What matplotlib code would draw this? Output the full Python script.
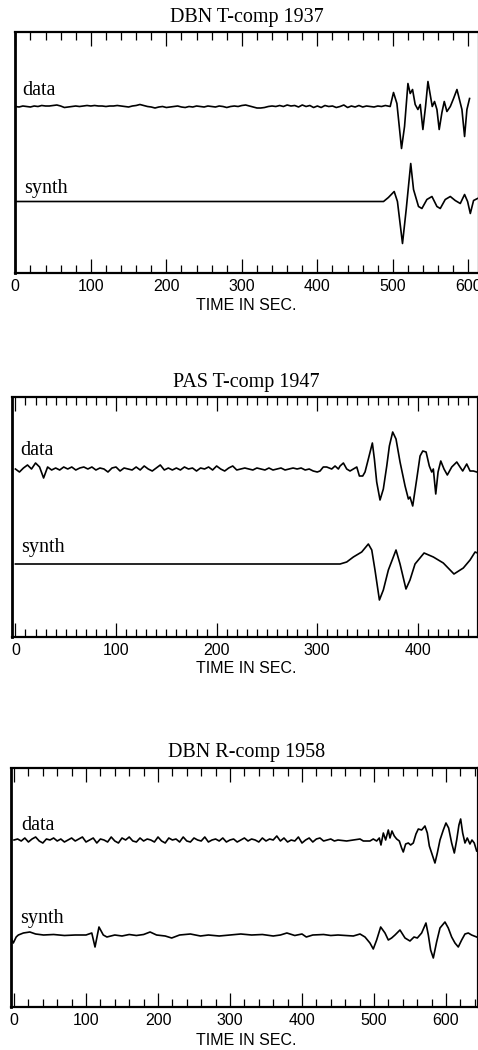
import numpy as np
import matplotlib
matplotlib.use("Agg")
import matplotlib.pyplot as plt
from matplotlib.ticker import MultipleLocator

# ---------------- data (amplitudes in trace units, times in s) ----------------
titles = ["DBN T-comp 1937", "PAS T-comp 1947", "DBN R-comp 1958"]
xlabel = "TIME IN SEC."
trace_names = ["data", "synth"]

# Panel 1 : DBN T-comp 1937
p1_noise_t = np.arange(0, 491, 5)
p1_noise_v = [0, -0.5, 0.5, 0, -0.5, 0.5, 0, 1, 0.5, 0.5,
              1, 1.5, 0.5, -1, -0.5, 0, 0.5, 0, 0.5, 1,
              0.5, 1, 0.5, 0.5, 0, 0.5, 0.5, 1, 0.5, 0,
              -0.5, 0.5, 1, 2, 1, 0, -0.5, -1.5, -0.5, 0,
              -1, -0.5, 0, 0.5, -0.5, -1, 0, -0.5, 0.5, 0,
              -0.5, 0.5, 0, -0.5, 0.5, 0, -1, 0, 0.5, 0,
              1, 1.5, 0.5, -0.5, -1.5, -1.5, -1, 0, 0.5, 0,
              1, 0, 1.5, 0.5, 1, -0.5, 1.5, 0, 1, -1,
              0.5, -1, 1, 0, 0.5, -1, 0, 1.5, -1, 0.5,
              -0.5, 1, -0.5, 0.5, 0, -0.5, 0.5, 0, 1]
p1_sig_t = [496.4, 500.8, 505.3, 511.4, 515.4, 519.9, 522.9, 526.0, 529.5, 533.1,
            536.2, 539.7, 543.2, 546.4, 549.4, 552.1, 555.1, 558.3, 561.3, 564.9,
            568.0, 571.5, 576.0, 580.3, 584.8, 587.8, 591.4, 594.9, 598.0, 601.5]
p1_sig_v = [0, 14, 3, -42, -20, 23, 13, 17, 2, -3,
            2, -23, 0, 25, 12, 0, 5, -3, -23, -6,
            5, -5, 0, 8, 17, 8, -3, -30, -3, 8]
p1_syn_t = [0, 470.0, 487.6, 494.0, 501.7, 506.0, 512.7, 517.6, 523.6, 527.3, 533.9,
            538.4, 545.0, 551.7, 558.3, 562.7, 569.3, 576.0, 582.5, 589.2,
            594.9, 598.9, 602.5, 606.8, 612.0]
p1_syn_v = [0, 0, 0, 4, 10, 0, -42, -8, 38, 12, -5,
            -7, 2, 5, -5, -7, 2, 5, 1, -2,
            7, 0, -12, 1, 3]

# Panel 2 : PAS T-comp 1947
p2_noise_t = np.arange(0, 301, 4)
p2_noise_v = [0, -3, 1, 4, 0, 6, 2, -9, 2, -1,
              1, -1, 2, 0, 2, -1, 1, 2, 0, 2,
              -1, 1, 0, -3, 1, 2, -2, 1, 0, -1,
              2, -1, 3, 0, -2, 1, 4, -1, 1, -1,
              1, -1, 2, 0, 1, -2, 1, 0, 2, -1,
              3, 0, -2, 1, 3, -1, 0, 1, 0, -1,
              1, 0, -1, 1, -1, 0, 1, -1, 0, 1,
              0, 1, -1, 0, -2, -3]
p2_sig_t = [302.8, 306.0, 309.4, 314.4, 317.7, 321.0, 322.7, 326.0, 329.3, 332.6,
            335.9, 339.3, 341.9, 345.2, 347.5, 350.8, 354.8, 356.8, 359.1, 362.4,
            365.7, 369.1, 371.7, 375.0, 378.3, 382.3, 387.3, 390.6, 392.2, 394.9,
            398.9, 402.2, 404.9, 408.2, 411.4, 413.8, 415.4, 417.8, 420.1, 422.8,
            426.0, 429.3, 433.7, 438.7, 441.9, 444.6, 448.6, 451.9, 455.2, 458.5]
p2_sig_v = [-2, 2, 2, 0, 3, 0, 3, 6, 0, -2,
            0, 2, -7, -7, -3, 10, 26, 10, -13, -31,
            -20, 3, 23, 37, 30, 7, -17, -30, -28, -37,
            -10, 13, 18, 17, 3, -3, 0, -25, -3, 8,
            0, -6, 2, 7, 2, -2, 5, -2, -2, -3]
p2_syn_t = [0, 302.8, 322.7, 329.3, 335.9, 344.2, 350.8, 354.2, 357.4, 361.8,
            365.7, 370.7, 378.3, 382.3, 388.2, 392.2, 397.2, 406.2, 415.4, 425.3,
            435.9, 445.2, 451.9, 456.9, 459.2]
p2_syn_v = [0, 0, 0, 2, 7, 12, 20, 14, -6, -36,
            -26, -6, 14, 0, -25, -16, 0, 11, 7, 1,
            -10, -4, 4, 12, 11]

# Panel 3 : DBN R-comp 1958
p3_noise_t = np.arange(0, 451, 5)
p3_noise_v = [0, 1, -1, 2, -2, 1, 3, -1, -3, 1,
              0, 2, -1, 1, -2, 0, 2, -1, 1, 3,
              -2, 0, 2, -3, 1, 0, -2, 3, -1, -3,
              2, 0, 3, -1, -2, 2, -1, 1, 0, -2,
              3, -1, -3, 2, 0, 1, -2, 3, -1, -2,
              2, 0, -1, 3, -2, 0, 1, -1, 2, -2,
              0, 1, -2, 0, 2, -1, 1, 0, -2, 2,
              -1, 1, 0, 4, -1, 2, -2, 0, -1, 3,
              -3, 0, 2, -2, 1, 2, -1, 0, 1, -1,
              0]
p3_sig_t = [462.0, 471.3, 480.6, 485.2, 494.4, 499.0, 503.7, 507.4, 509.7, 513.0,
            516.2, 519.9, 522.2, 525.0, 528.2, 531.5, 535.2, 538.4, 540.7, 544.0,
            547.7, 550.9, 554.6, 558.3, 561.6, 566.2, 570.8, 574.1, 576.9, 581.5,
            584.7, 588.0, 591.7, 596.3, 600.0, 603.7, 607.9, 611.6, 614.9, 618.0,
            620.4, 623.2, 626.4, 629.6, 633.3, 636.1, 639.3, 642.6]
p3_sig_v = [-1, 0, 1, -1, -1, 1, -1, 2, -5, 7,
            0, 10, 2, 9, 4, 1, -1, -8, -12, -4,
            -3, -5, -3, 6, 11, 10, 14, 7, -6, -16,
            -23, -13, 0, 10, 17, 12, -3, -13, 0, 15,
            21, 7, -3, 2, -4, 0, -3, -11]
p3_syn_t = [-4, -1, 3, 6, 13, 22, 30, 41, 55, 70, 85, 100, 108, 112.5, 118, 124,
            129, 140, 150, 160, 170, 180, 189, 198, 210, 219, 230, 245, 259, 270,
            285, 300, 315, 330, 345, 360, 370, 379, 390, 400, 406, 415, 430, 440,
            450, 471.3, 480.6, 487.5, 494.4, 499.0, 503.7, 509.3, 515.3, 519.9,
            524.5, 529.2, 536.1, 543.1, 550.0, 555.6, 560.2, 566.2, 572.2, 575.5,
            578.7, 582.4, 587.0, 591.7, 598.6, 603.2, 607.9, 612.5, 617.1, 621.8,
            626.4, 631.0, 635.6, 642.6]
p3_syn_v = [-3, -8, -2, 0, 2, 3, 1, 0, 0.5, -0.5, 0, 0, 2, -12, 8, 0,
            -2, 0, -1, 0.5, -0.5, 0.5, 3, 0, -1, -3, 0, 1, -1, 0,
            -1, 0, 1, 0, 0.5, -1, 0, 2, -0.5, 1, -2, 0, 0.5, -0.5,
            0, -1, 1, -2, -8, -14, -5, 8, 2, -5,
            -3, 0, 5, -3, -6, -2, -3, 2, 12, 0,
            -15, -23, -7, 7, 13, 7, -2, -8, -12, -5,
            1, 2, 0, -2]

# ---------------- layout (pixels) ----------------
W, H = 478, 1050
fig = plt.figure(figsize=(W / 100, H / 100), dpi=100)
fig.patch.set_facecolor("white")

SERIF = ["Liberation Serif", "DejaVu Serif"]
SANS = ["Liberation Sans", "DejaVu Sans"]

panels = [
    dict(box=(15.3, 479.0, 32, 273), xlim=(0, 614), minor=20,
         data=(np.concatenate([p1_noise_t, p1_sig_t]), np.concatenate([p1_noise_v, p1_sig_v])),
         synth=(np.array(p1_syn_t), np.array(p1_syn_v)),
         base=(166.5, 71.5), lab=((9, 178), (11.5, 80)),
         title_y=21.7, xlab_top=298, ticks=range(0, 601, 100)),
    dict(box=(12.3, 477.5, 397, 637), xlim=(-3.1, 459.3), minor=10,
         data=(np.concatenate([p2_noise_t, p2_sig_t]), np.concatenate([p2_noise_v, p2_sig_v])),
         synth=(np.array(p2_syn_t), np.array(p2_syn_v)),
         base=(168, 73), lab=((4.6, 182), (6, 85)),
         title_y=386.7, xlab_top=661, ticks=range(0, 401, 100)),
    dict(box=(11.0, 477.5, 768, 1007), xlim=(-4.2, 643.8), minor=20,
         data=(np.concatenate([p3_noise_t, p3_sig_t]), np.concatenate([p3_noise_v, p3_sig_v])),
         synth=(np.array(p3_syn_t), np.array(p3_syn_v)),
         base=(167, 72), lab=((10.7, 177), (8, 84)),
         title_y=757.3, xlab_top=1033, ticks=range(0, 601, 100)),
]

for i, p in enumerate(panels):
    l, r, t, b = p["box"]
    ax = fig.add_axes([l / W, 1 - b / H, (r - l) / W, (b - t) / H])
    ax.set_xlim(*p["xlim"])
    ax.set_ylim(0, b - t)
    dt, dv = p["data"]
    st, sv = p["synth"]
    ax.plot(dt, dv + p["base"][0], color="black", lw=1.2, solid_joinstyle="round")
    ax.plot(st, sv + p["base"][1], color="black", lw=1.2, solid_joinstyle="round")
    for name, (lx, ly) in zip(trace_names, p["lab"]):
        ax.text(lx, ly, name, family=SERIF, fontsize=14.5, ha="left", va="baseline")
    ax.xaxis.set_major_locator(MultipleLocator(100))
    ax.xaxis.set_minor_locator(MultipleLocator(p["minor"]))
    ax.set_xticks(list(p["ticks"]))
    ax.set_xticklabels([str(v) for v in p["ticks"]], family=SANS, fontsize=11.5)
    ax.tick_params(axis="x", which="both", direction="in", top=True, bottom=True,
                   width=0.9, color="black", pad=4.5)
    ax.tick_params(axis="x", which="major", length=10)
    ax.tick_params(axis="x", which="minor", length=5.5)
    ax.set_yticks([])
    for s in ax.spines.values():
        s.set_linewidth(1.6)
    ax.spines["left"].set_linewidth(2.0)
    fig.text(246.7 / W, 1 - p["title_y"] / H, titles[i], family=SERIF, fontsize=14.5,
             ha="center", va="baseline")
    fig.text(246.7 / W, 1 - p["xlab_top"] / H, xlabel, family=SANS, fontsize=11.5,
             ha="center", va="top")

fig.savefig("out.png", dpi=100, facecolor="white")
